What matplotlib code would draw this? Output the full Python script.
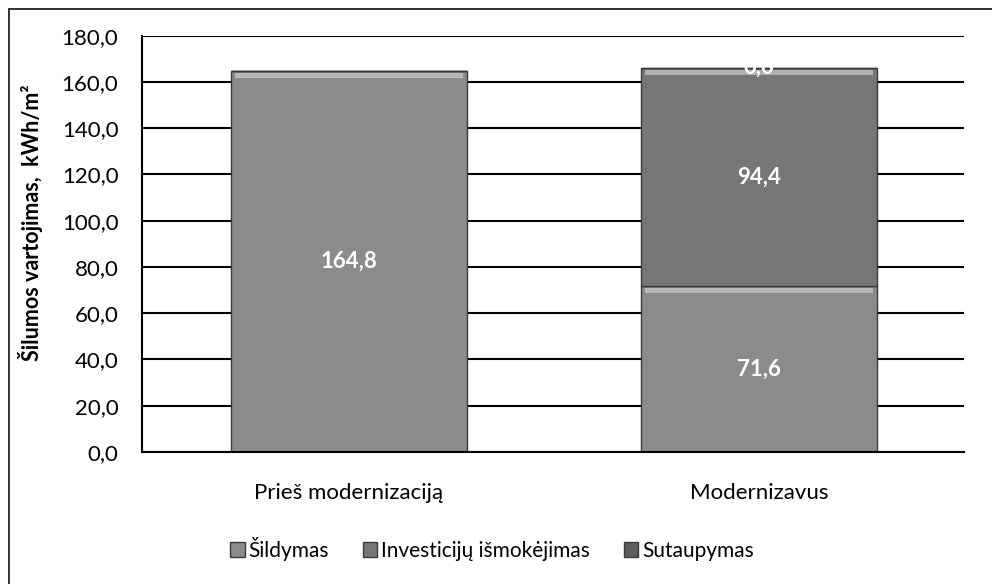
import matplotlib
matplotlib.use("Agg")
import matplotlib.pyplot as plt
import numpy as np
from matplotlib.patches import Rectangle
from matplotlib.ticker import FuncFormatter, MultipleLocator

plt.rcParams['font.family'] = ['Lato', 'DejaVu Sans']

categories = ['Prieš modernizaciją', 'Modernizavus']
series_names = ['Šildymas', 'Investicijų išmokėjimas', 'Sutaupymas']
sildymas = [164.8, 71.6]
investicijos = [0.0, 94.4]
sutaupymas = [0.0, 0.0]
# which segments carry a value label
show_label = [[True, True], [False, True], [False, True]]

colors = ['#8b8b8b', '#767676', '#5e5e5e']


def comma(v, pos=None):
    return f'{v:.1f}'.replace('.', ',')


fig = plt.figure(figsize=(9.92, 5.84), dpi=100)
ax = fig.add_axes([142 / 992, 1 - 452 / 584, 822 / 992, (452 - 35.7) / 584])

x = np.arange(len(categories))
width = 0.575
series = [sildymas, investicijos, sutaupymas]
bottom = np.zeros(len(categories))

ax.set_axisbelow(True)
for vals, name, col, lab in zip(series, series_names, colors, show_label):
    vals = np.array(vals)
    ax.bar(x, vals, width, bottom=bottom, color=col, edgecolor='#3a3a3a',
           linewidth=1.0, label=name, zorder=2)
    for i in range(len(x)):
        if vals[i] > 3:
            # light bevel strip at top of each segment
            ax.bar(x[i], 2.2, width * 0.97, bottom=bottom[i] + vals[i] - 3.0,
                   color='#cfcfcf', alpha=0.65, linewidth=0, zorder=3)
        if lab[i]:
            ax.text(x[i], bottom[i] + vals[i] / 2 if vals[i] > 0 else bottom[i] + 0.5,
                    comma(vals[i]), ha='center', va='center', color='white',
                    fontsize=16, fontweight='bold', zorder=4)
    bottom = bottom + vals

ax.set_xlim(-0.505, 1.5)
ax.set_ylim(0, 180)
ax.yaxis.set_major_locator(MultipleLocator(20))
ax.yaxis.set_major_formatter(FuncFormatter(comma))
ax.grid(axis='y', color='black', linewidth=1.5, zorder=0)
ax.set_xticks(x)
ax.set_xticklabels(categories, fontsize=16)
ax.tick_params(axis='y', labelsize=16, length=0, pad=17)
ax.tick_params(axis='x', length=0, pad=22)

for s in ['top', 'right']:
    ax.spines[s].set_visible(False)
for s in ['left', 'bottom']:
    ax.spines[s].set_color('black')
    ax.spines[s].set_linewidth(1.5)

ax.set_ylabel('Šilumos vartojimas,  kWh/m²', fontsize=15.5, fontweight='bold')
ax.yaxis.set_label_coords(-0.12, 0.55)

handles, labels = ax.get_legend_handles_labels()
fig.legend(handles, labels, loc='center', bbox_to_anchor=(492 / 992, 1 - 549 / 584),
           ncol=3, frameon=False, fontsize=15, handlelength=0.7, handleheight=0.7,
           handletextpad=0.2, columnspacing=1.6)

# outer chart border
fig.patches.append(Rectangle((9 / 992, -0.05), 1.05, 1 - 9 / 584 + 0.05,
                             transform=fig.transFigure, fill=False,
                             edgecolor='#222222', linewidth=1.3))

fig.savefig('out.png', dpi=100)
